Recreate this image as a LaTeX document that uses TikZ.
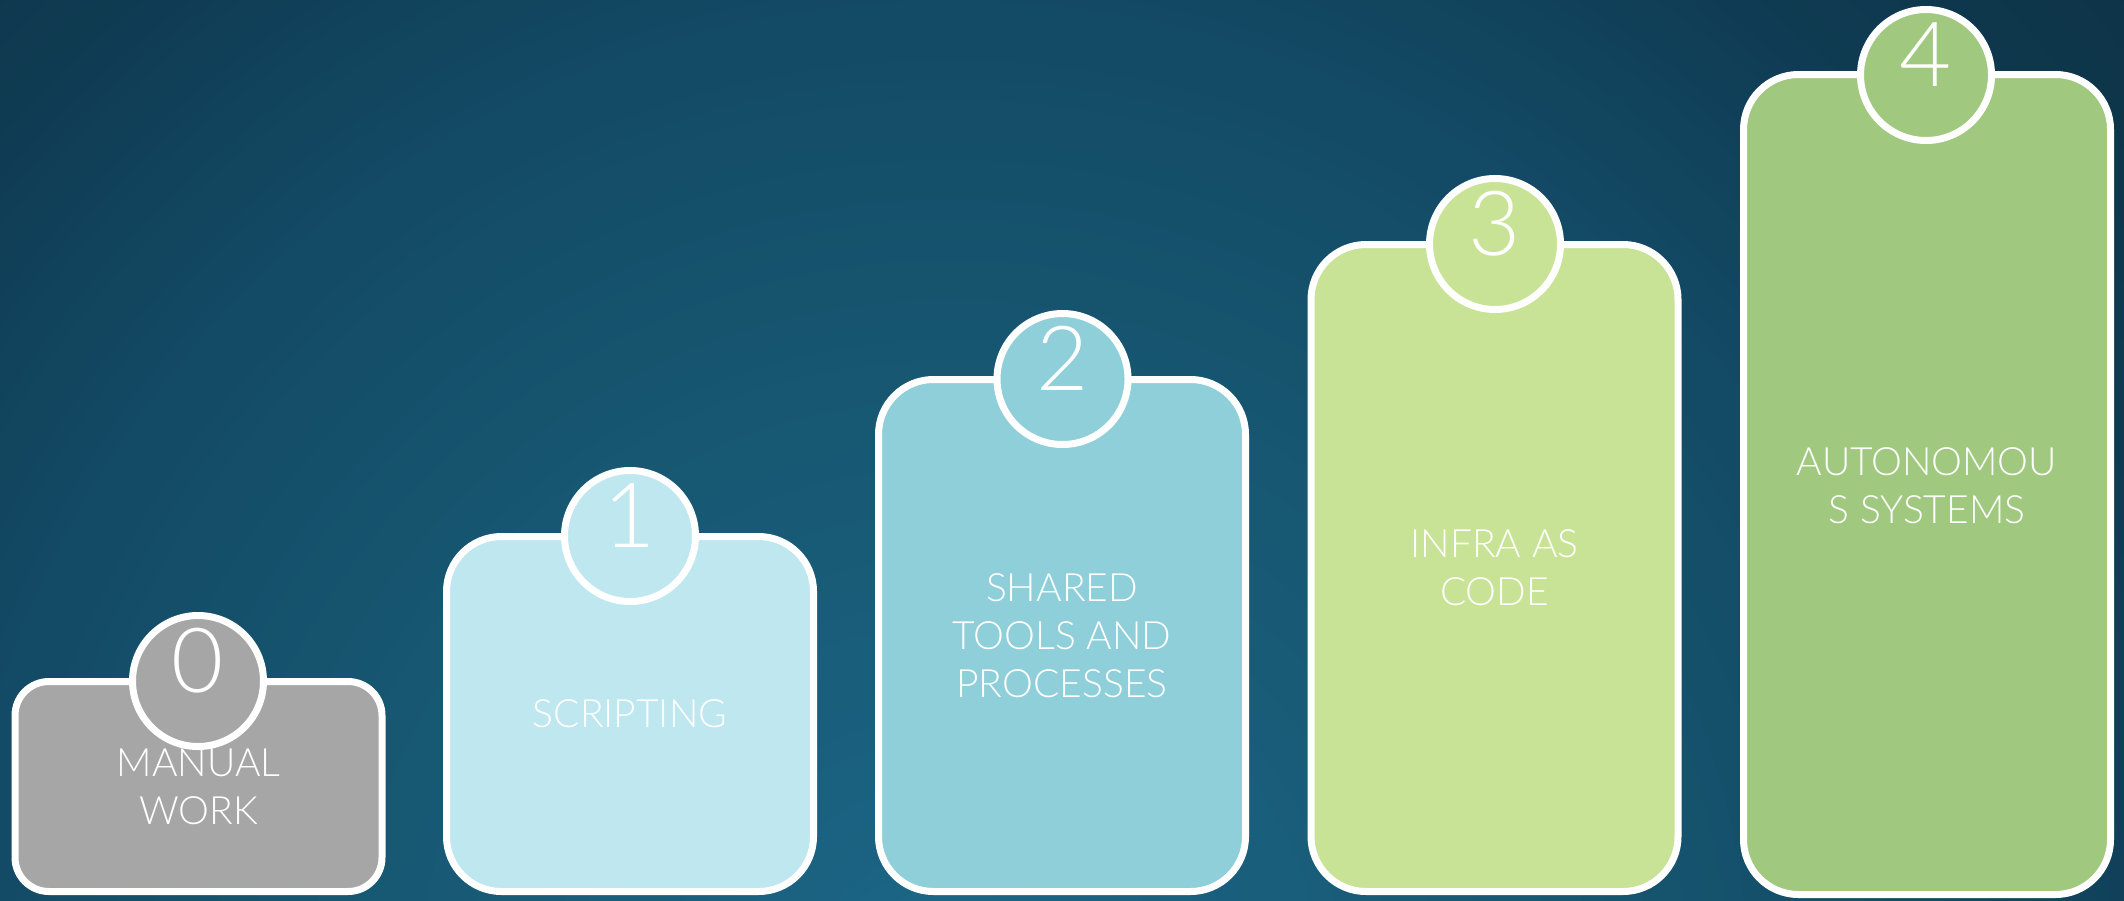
\documentclass[tikz,border=0pt]{standalone}
\usepackage{fontspec}
\setmainfont{Lato Light}
\definecolor{bga}{HTML}{1D6A8A}
\definecolor{bgb}{HTML}{1B6383}
\definecolor{bgc}{HTML}{175872}
\definecolor{bgd}{HTML}{134A65}
\definecolor{bge}{HTML}{0F3B52}
\definecolor{bgf}{HTML}{0D3246}
\definecolor{fillzero}{HTML}{A6A6A6}
\definecolor{fillone}{HTML}{BEE7EF}
\definecolor{filltwo}{HTML}{8ECFD9}
\definecolor{fillthree}{HTML}{C8E396}
\definecolor{fillfour}{HTML}{A0C97F}
\begin{document}
\begin{tikzpicture}[x=0.5pt,y=-0.5pt,
  stage/.style={draw=white, line width=3.5pt, rounded corners=27.5pt, minimum width=183.5pt, inner sep=0pt},
  badge/.style={circle, draw=white, line width=3.5pt, minimum size=65.5pt, inner sep=0pt},
  badgenum/.style={text=white, font=\fontsize{45}{45}\selectfont, anchor=base, inner sep=0pt},
  stagetext/.style={text=white, align=center, font=\fontsize{19.5}{24}\selectfont, inner sep=0pt}]
\useasboundingbox (0,0) rectangle (2124,900);
\begin{scope}
  \clip (0,0) rectangle (2124,900);
  \fill[bgf] (0,0) rectangle (2124,900);
  \foreach \ra/\rb/\ca/\cb in {1300/1600/bge/bgf, 1000/1300/bgd/bge, 600/1000/bgc/bgd, 150/600/bgb/bgc, 0/150/bga/bgb}{
    \foreach \k in {0,...,19}{
      \pgfmathsetmacro\myr{\rb-\k*(\rb-\ra)/20}
      \pgfmathsetmacro\mypct{(\myr-\ra)/(\rb-\ra)*100}
      \pgfmathsetmacro\myrad{\myr/2}
      \fill[\cb!\mypct!\ca] (950,1000) circle (\myrad pt);
    }
  }
\end{scope}
% boxes
\node[stage, fill=fillzero, minimum height=105pt, rounded corners=17pt] (b0) at (198.5,786.5) {};
\node[stage, fill=fillone, minimum height=177.5pt] (b1) at (630,714) {};
\node[stage, fill=filltwo, minimum height=256pt] (b2) at (1062,635.5) {};
\node[stage, fill=fillthree, minimum height=323.5pt] (b3) at (1494.5,568) {};
\node[stage, fill=fillfour, minimum height=410pt] (b4) at (1927,484.5) {};
% badges
\node[badge, fill=fillzero] (c0) at (198,681) {};
\node[badge, fill=fillone] (c1) at (630,536) {};
\node[badge, fill=filltwo] (c2) at (1062.5,379) {};
\node[badge, fill=fillthree] (c3) at (1495,244) {};
\node[badge, fill=fillfour] (c4) at (1926,75) {};
% digits
\node[badgenum] (n0) at (198,692) {0};
\node[badgenum] (n1) at (630,547) {1};
\node[badgenum] (n2) at (1062.5,390) {2};
\node[badgenum] (n3) at (1495,255) {3};
\node[badgenum] (n4) at (1926,86) {4};
% labels
\node[stagetext] (t0) at (198.5,786.5) {MANUAL\\WORK};
\node[stagetext] (t1) at (630,714) {SCRIPTING};
\node[stagetext] (t2) at (1062,635.5) {SHARED\\TOOLS AND\\PROCESSES};
\node[stagetext] (t3) at (1494.5,568) {INFRA AS\\CODE};
\node[stagetext] (t4) at (1927,486) {AUTONOMOU\\S SYSTEMS};
\end{tikzpicture}
\end{document}
